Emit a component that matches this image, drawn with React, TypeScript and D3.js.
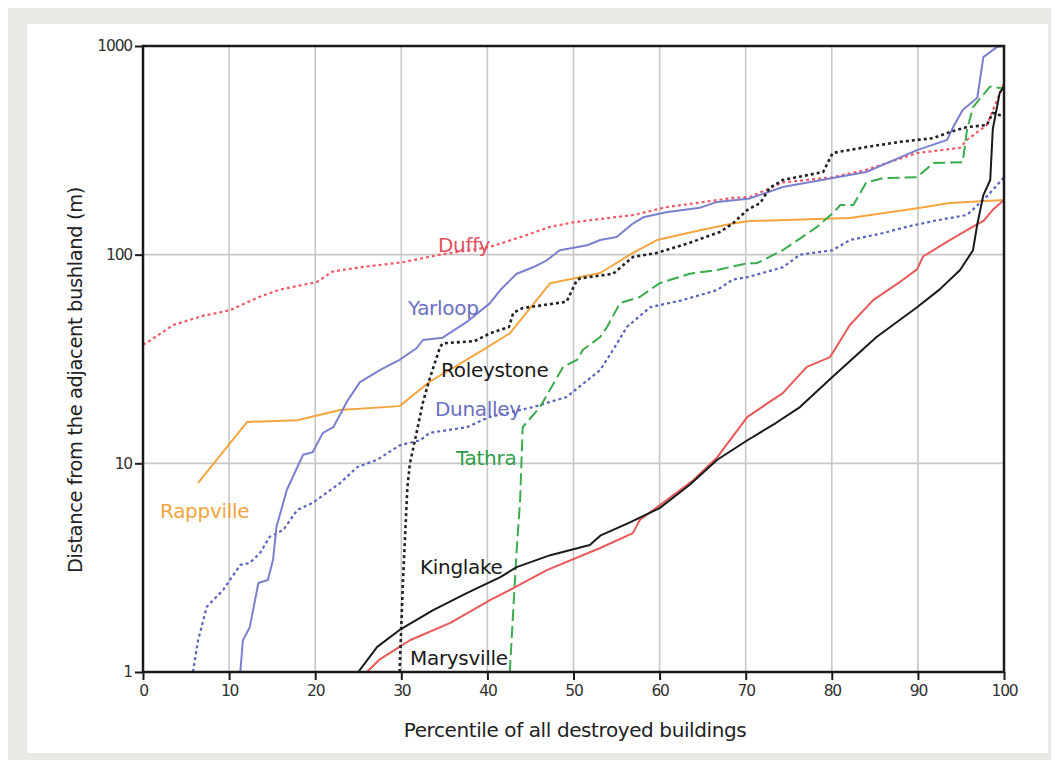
import React, { useEffect, useRef } from 'react'
import * as d3 from 'd3'

// percentile of destroyed buildings vs distance from bushland (m)
const duffy = [[0, 37], [0.5, 38], [3.5, 46], [7, 51], [10, 54], [13.6, 63], [15.9, 68], [20.2, 74], [22, 83], [25.2, 87], [30.2, 92], [34.5, 100], [40.3, 109], [44, 122], [47.3, 136], [50, 143], [57, 155], [60.8, 169], [68.5, 187], [70.5, 189], [74.3, 222], [80.1, 235], [84, 255], [89.9, 307], [94.9, 325], [95.7, 355], [98, 418], [99.2, 551], [100, 665]]
const yarloop = [[11.3, 1], [11.6, 1.42], [12.4, 1.64], [13.4, 2.67], [14.5, 2.76], [15.1, 3.44], [15.5, 4.95], [16.7, 7.45], [17.4, 8.6], [18.6, 11], [19.7, 11.3], [20.9, 14], [22.1, 14.9], [23.7, 19.8], [25.2, 24.5], [27.5, 28], [29.8, 31.3], [31.8, 35.7], [32.5, 39], [34.8, 40], [37.6, 47.6], [40.3, 58.6], [41.5, 67.7], [43.4, 81], [45.3, 87], [46.9, 94], [48.4, 105], [51.6, 111], [53.1, 117.5], [55, 121.6], [56.9, 141], [58.1, 151], [60.9, 160], [64.7, 168], [66.7, 179], [70.5, 186], [74.3, 211], [80.1, 233], [84, 249], [89.9, 317], [93.4, 355], [94.1, 409], [95.2, 494], [96.9, 565], [97.6, 885], [99.2, 990], [100, 1000]]
const roleystone = [[29.8, 1], [30.2, 2.76], [30.7, 7.6], [31, 10], [31.8, 14.2], [32.5, 19.5], [33.3, 25.5], [34.5, 36], [34.8, 37.6], [38.5, 38.5], [40.3, 42], [42.5, 45], [43, 52.6], [44.1, 55.5], [46.1, 57], [49.2, 59.5], [50.4, 75.6], [50.8, 77], [54.6, 81], [56.9, 97.5], [59.7, 102], [63.5, 114], [67, 128.5], [68.5, 141], [70.2, 164], [71.7, 177], [72.8, 209], [74.3, 228], [79, 249], [80.1, 307], [84, 328], [87.9, 347], [91.8, 362], [93.7, 387], [95.7, 409], [98, 418], [98.7, 478], [100, 460]]
const rappville = [[6.4, 8.05], [12.1, 15.8], [17.9, 16.1], [22.9, 18], [29.8, 18.8], [33.3, 24.6], [39.5, 35], [42.6, 42], [47.3, 73], [53.1, 81.7], [56.9, 102], [59.7, 117.5], [64.7, 131], [68.5, 141], [70.5, 145], [82.1, 150], [89.9, 167], [93.7, 177], [100, 183]]
const dunalley = [[5.8, 1], [6.4, 1.42], [7.4, 2.05], [9.3, 2.47], [11.3, 3.26], [12.4, 3.33], [13.6, 3.72], [14.7, 4.44], [16.3, 4.8], [17.9, 5.97], [19.7, 6.46], [22.9, 8.05], [24.9, 9.6], [27.2, 10.4], [29.8, 12.2], [32.2, 12.9], [33.3, 14], [37.6, 14.9], [40.3, 16.7], [45.3, 18.6], [49.2, 20.8], [53.1, 28], [54.6, 35], [56.2, 45], [58.9, 56], [62.7, 60.6], [66.7, 67.7], [68.5, 76], [70.2, 78], [74.3, 87], [76.3, 100], [80.1, 105], [82.1, 117.5], [86, 127], [88.7, 136], [91.8, 145], [95.7, 155], [97.6, 183], [98.7, 204], [100, 235]]
const tathra = [[42.6, 1], [43.4, 3.84], [43.8, 6.67], [44.1, 14.9], [46.1, 18.6], [48.8, 29], [50.4, 31.3], [51.1, 35], [53.1, 40.3], [53.9, 45], [55.4, 58.6], [57.7, 62.7], [60, 73], [63.5, 81], [66.7, 84.5], [70.2, 91], [71.3, 91], [74.3, 105], [78.3, 136], [80.1, 158], [81, 173], [82.5, 173], [84, 222], [86, 233], [89.9, 235], [91.8, 275], [95.2, 277], [95.7, 396], [96.4, 510], [98.4, 640], [100, 625]]
const kinglake = [[25, 1], [27.2, 1.32], [29.8, 1.59], [33.7, 1.98], [37.6, 2.39], [41.5, 2.85], [43.4, 3.18], [47.3, 3.63], [51.9, 4.06], [53.1, 4.5], [56.5, 5.2], [60, 6.1], [63.5, 7.9], [66.7, 10.4], [70.2, 12.9], [73.5, 15.6], [76.3, 18.6], [80.1, 26], [82.5, 32], [85.2, 40.3], [89.9, 56], [92.5, 68], [94.9, 84.5], [96.4, 105], [96.9, 140], [97.6, 193], [98.4, 228], [98.7, 400], [99.5, 596], [100, 640]]
const marysville = [[26, 1], [27.5, 1.15], [29.8, 1.32], [31, 1.42], [35.7, 1.72], [40.3, 2.21], [43, 2.52], [46.9, 3.08], [53.1, 3.93], [56.9, 4.63], [57.7, 5.35], [60, 6.3], [63.9, 8.3], [66.7, 10.7], [70.2, 16.7], [74.3, 21.7], [77.1, 29], [79.8, 32.3], [82.1, 46], [84.8, 60.6], [87.5, 72], [89.9, 85], [90.6, 98], [93.7, 117.5], [95.7, 131], [97.6, 145], [98.7, 164], [100, 183]]

const xTicks = [0, 10, 20, 30, 40, 50, 60, 70, 80, 90, 100]
const yTicks = [1, 10, 100, 1000]

const series = [
  { name: 'Duffy', data: duffy, color: '#ee5a66', dash: '3,3', width: 2.2 },
  { name: 'Rappville', data: rappville, color: '#f5a540', dash: null, width: 2 },
  { name: 'Dunalley', data: dunalley, color: '#5a63bb', dash: '3,3', width: 2.2 },
  { name: 'Yarloop', data: yarloop, color: '#7b80cc', dash: null, width: 2 },
  { name: 'Tathra', data: tathra, color: '#3aac4c', dash: '12,5', width: 2 },
  { name: 'Marysville', data: marysville, color: '#e85a5a', dash: null, width: 2 },
  { name: 'Kinglake', data: kinglake, color: '#1a1a1a', dash: null, width: 2 },
  { name: 'Roleystone', data: roleystone, color: '#222222', dash: '3,3', width: 2.6 },
]

const labels = [
  { text: 'Duffy', x: 430, y: 244, color: '#e0505e' },
  { text: 'Yarloop', x: 400, y: 307, color: '#6a70c4' },
  { text: 'Roleystone', x: 433, y: 369, color: '#1a1a1a' },
  { text: 'Dunalley', x: 427, y: 408, color: '#6a70c4' },
  { text: 'Tathra', x: 448, y: 457, color: '#2f9c48' },
  { text: 'Rappville', x: 152, y: 510, color: '#f0a540' },
  { text: 'Kinglake', x: 412, y: 566, color: '#1a1a1a' },
  { text: 'Marysville', x: 402, y: 657, color: '#1a1a1a' },
]

export default function App() {
  const ref = useRef<SVGSVGElement>(null)

  useEffect(() => {
    const W = 1051, H = 752
    const margin = { left: 135, top: 38, right: W - 996, bottom: H - 664 }
    const svg = d3.select(ref.current)
    svg.selectAll('*').remove()

    svg.append('rect').attr('width', W).attr('height', H).attr('fill', '#e9e9e5')
    svg.append('rect').attr('x', 19).attr('y', 16).attr('width', 1021).attr('height', 729).attr('fill', '#ffffff')

    const x = d3.scaleLinear().domain([0, 100]).range([margin.left, W - margin.right])
    const y = d3.scaleLog().domain([1, 1000]).range([H - margin.bottom, margin.top])

    // grid
    const g = svg.append('g')
    g.selectAll('.vg').data(xTicks.slice(1, -1)).enter().append('line')
      .attr('x1', d => x(d)).attr('x2', d => x(d))
      .attr('y1', y(1)).attr('y2', y(1000))
      .attr('stroke', '#c8c8c8').attr('stroke-width', 1.6)
    g.selectAll('.hg').data(yTicks.slice(1, -1)).enter().append('line')
      .attr('x1', x(0)).attr('x2', x(100))
      .attr('y1', d => y(d)).attr('y2', d => y(d))
      .attr('stroke', '#c8c8c8').attr('stroke-width', 1.6)

    svg.append('clipPath').attr('id', 'plotclip').append('rect')
      .attr('x', x(0)).attr('y', y(1000)).attr('width', x(100) - x(0)).attr('height', y(1) - y(1000))

    const line = d3.line<number[]>()
      .x(d => x(d[0]))
      .y(d => y(d[1]))

    const lines = svg.append('g').attr('clip-path', 'url(#plotclip)')
    series.forEach(s => {
      lines.append('path')
        .datum(s.data)
        .attr('d', line)
        .attr('fill', 'none')
        .attr('stroke', s.color)
        .attr('stroke-width', s.width)
        .attr('stroke-dasharray', s.dash)
        .attr('stroke-linejoin', 'round')
    })

    // frame
    svg.append('rect')
      .attr('x', x(0)).attr('y', y(1000))
      .attr('width', x(100) - x(0)).attr('height', y(1) - y(1000))
      .attr('fill', 'none').attr('stroke', '#1a1a1a').attr('stroke-width', 2.5)

    const font = 'DejaVu Sans, Verdana, sans-serif'

    // x axis
    const xa = svg.append('g').attr('transform', 'translate(0,' + y(1) + ')')
      .call(d3.axisBottom(x).tickValues(xTicks).tickSize(8).tickPadding(5).tickFormat(d3.format('d')))
    xa.select('.domain').remove()
    xa.selectAll('.tick line').attr('stroke', '#1a1a1a').attr('stroke-width', 2)
    xa.selectAll('.tick text').attr('font-family', font).attr('font-size', 15.5).attr('fill', '#333').attr('letter-spacing', -1.2)

    // y axis
    const ya = svg.append('g').attr('transform', 'translate(' + x(0) + ',0)')
      .call(d3.axisLeft(y).tickValues(yTicks).tickSize(8).tickPadding(3).tickFormat(d3.format('d')))
    ya.select('.domain').remove()
    ya.selectAll('.tick line').attr('stroke', '#1a1a1a').attr('stroke-width', 2)
    ya.selectAll('.tick text').attr('font-family', font).attr('font-size', 15.5).attr('fill', '#333').attr('letter-spacing', -1.2)

    // axis titles
    svg.append('text')
      .attr('x', 567).attr('y', 729)
      .attr('text-anchor', 'middle')
      .attr('font-family', font).attr('font-size', 20).attr('fill', '#222')
      .attr('letter-spacing', -0.4)
      .text('Percentile of all destroyed buildings')
    svg.append('text')
      .attr('transform', 'translate(74,' + 372 + ') rotate(-90)')
      .attr('text-anchor', 'middle')
      .attr('font-family', font).attr('font-size', 19.5).attr('fill', '#222')
      .attr('letter-spacing', -0.4)
      .text('Distance from the adjacent bushland (m)')

    // series labels
    svg.selectAll('.lbl').data(labels).enter().append('text')
      .attr('x', d => d.x).attr('y', d => d.y)
      .attr('font-family', font).attr('font-size', 20)
      .attr('letter-spacing', -0.3)
      .attr('fill', d => d.color)
      .text(d => d.text)
  }, [])

  return <svg ref={ref} width={1051} height={752} style={{ display: 'block' }} />
}
